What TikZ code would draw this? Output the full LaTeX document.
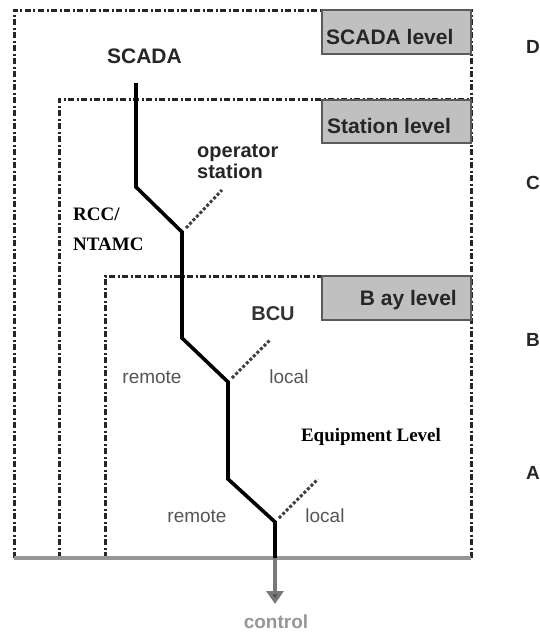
\documentclass[tikz,border=0pt]{standalone}
\usepackage{fontspec}
\setmainfont{Liberation Sans}
\newfontfamily\serifb{Liberation Serif}
\usetikzlibrary{arrows.meta}
\definecolor{lvlfill}{RGB}{192,192,192}
\definecolor{lvldraw}{RGB}{90,90,90}
\definecolor{txtgrey}{RGB}{85,85,85}
\definecolor{botgrey}{RGB}{150,150,150}
\begin{document}
\begin{tikzpicture}[x=1pt,y=-1pt,
  levelbox/.style={draw=black!85,line width=3pt,dash pattern=on 6pt off 2.5pt on 2pt off 2.5pt},
  lvllabel/.style={draw=lvldraw,fill=lvlfill,line width=1.6pt},
  lvltext/.style={font=\fontsize{21}{24}\selectfont\bfseries,text=black!85,inner sep=0pt},
  mainline/.style={line width=3.6pt,line join=miter},
  branch/.style={line width=3pt,dotted,black!75},
  lbl/.style={font=\fontsize{19}{22}\selectfont,text=txtgrey,inner sep=0pt,anchor=base},
  boldlbl/.style={font=\fontsize{20}{23}\selectfont\bfseries,text=black!85,inner sep=0pt},
  seriflbl/.style={font=\serifb\fontsize{19}{22}\selectfont\bfseries,inner sep=0pt},
  sidelbl/.style={font=\fontsize{19}{22}\selectfont\bfseries,text=black!85,inner sep=0pt,anchor=base}]
\useasboundingbox (0,0) rectangle (540,632);
% level boxes (open at the bottom)
\draw[levelbox] (14,558) -- (14,10) -- (471,10) -- (471,558);
\draw[levelbox] (59,558) -- (59,99) -- (471,99);
\draw[levelbox] (105,558) -- (105,276) -- (471,276);
% grey label boxes
\draw[lvllabel] (322,10) rectangle (471,54);
\draw[lvllabel] (322,100) rectangle (471,143);
\draw[lvllabel] (322,276) rectangle (471,320);
\node[lvltext,anchor=base west] (lscada) at (326,44) {SCADA level};
\node[lvltext,anchor=base west] (lstation) at (327,133) {Station level};
\node[lvltext,anchor=base east] (lbay) at (457,305) {B ay level};
% bottom line
\draw[botgrey,line width=4.5pt] (14,558) -- (471,558);
% main line coordinates
\coordinate (p0) at (136,83);
\coordinate (p1) at (136,187);
\coordinate (p2) at (182,232);
\coordinate (p3) at (182,338);
\coordinate (p4) at (228,382);
\coordinate (p5) at (228,479);
\coordinate (p6) at (275,522);
\coordinate (p7) at (275,558);
\coordinate (tip) at (275,604);
\draw[mainline] (p0) -- (p1) -- (p2) -- (p3) -- (p4) -- (p5) -- (p6) -- (p7);
% branches
\coordinate (b1a) at (186,228); \coordinate (b1b) at (222,190);
\coordinate (b2a) at (232,378); \coordinate (b2b) at (270,340);
\coordinate (b3a) at (279,518); \coordinate (b3b) at (318,479);
\draw[branch] (b1a) -- (b1b);
\draw[branch] (b2a) -- (b2b);
\draw[branch] (b3a) -- (b3b);
% control arrow
\draw[botgrey!80!black,line width=3.5pt,-{Triangle[length=13pt,width=17pt,fill=black!70]}] (p7) -- (tip);
\node[font=\fontsize{19}{22}\selectfont\bfseries,text=botgrey,inner sep=0pt,anchor=base] (control) at (276,628) {control};
% texts
\node[font=\fontsize{21}{24}\selectfont\bfseries,text=black!85,inner sep=0pt,anchor=base] (scada) at (144.5,63) {SCADA};
\node[boldlbl,anchor=base west] (op1) at (197,157) {operator};
\node[boldlbl,anchor=base west] (op2) at (197,178) {station};
\node[seriflbl,anchor=base west] (rcc) at (73,220) {RCC/};
\node[seriflbl,anchor=base west] (ntamc) at (73,250) {NTAMC};
\node[boldlbl,anchor=base,text=black!80] (bcu) at (273,320) {BCU};
\node[lbl] (rem1) at (152,383) {remote};
\node[lbl] (loc1) at (289,383) {local};
\node[seriflbl,anchor=base] (equip) at (371,441) {Equipment Level};
\node[lbl] (rem2) at (197,522) {remote};
\node[lbl] (loc2) at (325,522) {local};
% side letters
\node[sidelbl] (sD) at (533,53) {D};
\node[sidelbl] (sC) at (533,189) {C};
\node[sidelbl] (sB) at (533,346) {B};
\node[sidelbl] (sA) at (533,479) {A};
\end{tikzpicture}
\end{document}
